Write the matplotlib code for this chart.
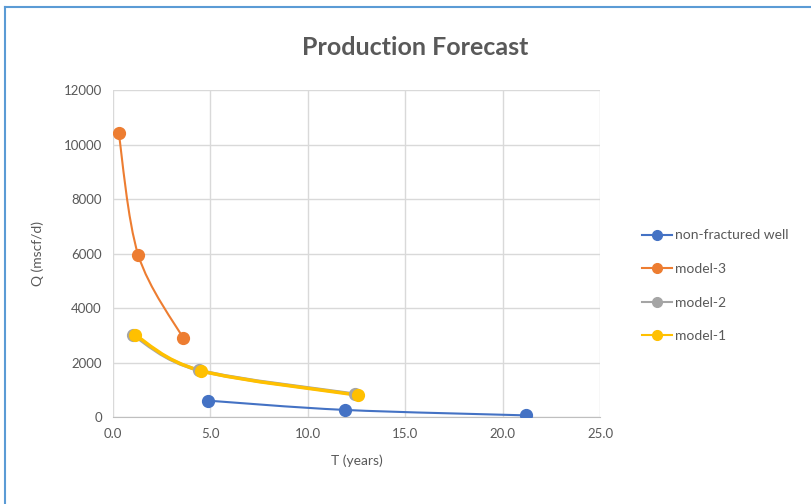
import matplotlib
matplotlib.use('Agg')
import matplotlib.pyplot as plt
from matplotlib.path import Path
from matplotlib.patches import PathPatch
from matplotlib.lines import Line2D

# data
series_names = ['non-fractured well', 'model-3', 'model-2', 'model-1']
t_nonfrac = [4.9, 11.9, 21.2]
q_nonfrac = [600, 260, 60]
t_model3 = [0.3, 1.3, 3.6]
q_model3 = [10420, 5950, 2900]
t_model2 = [1.05, 4.4, 12.4]
q_model2 = [3000, 1720, 840]
t_model1 = [1.15, 4.5, 12.6]
q_model1 = [3000, 1700, 800]

colors = ['#4472C4', '#ED7D31', '#A5A5A5', '#FFC000']
widths = [1.5, 1.5, 2.5, 2.5]
xticks = [0, 5, 10, 15, 20, 25]
yticks = [0, 2000, 4000, 6000, 8000, 10000, 12000]
txt = '#595959'


def smooth_path(xs, ys):
    # Excel style smoothed line as bezier segments through the data points
    pts = list(zip(xs, ys))
    verts = [pts[0]]
    codes = [Path.MOVETO]
    n = len(pts)
    for i in range(n - 1):
        p0 = pts[i - 1] if i > 0 else pts[i]
        p1 = pts[i]
        p2 = pts[i + 1]
        p3 = pts[i + 2] if i + 2 < n else pts[i + 1]
        c1 = (p1[0] + (p2[0] - p0[0]) / 6, p1[1] + (p2[1] - p0[1]) / 6)
        c2 = (p2[0] - (p3[0] - p1[0]) / 6, p2[1] - (p3[1] - p1[1]) / 6)
        verts += [c1, c2, p2]
        codes += [Path.CURVE4] * 3
    return Path(verts, codes)


plt.rcParams['font.family'] = ['Lato', 'DejaVu Sans']
fig = plt.figure(figsize=(8.12, 5.04), dpi=100)
ax = fig.add_axes([0.139, 0.1726, 0.6, 0.6488])

all_t = [t_nonfrac, t_model3, t_model2, t_model1]
all_q = [q_nonfrac, q_model3, q_model2, q_model1]
handles = []
for t, q, c, w, name in zip(all_t, all_q, colors, widths, series_names):
    ax.add_patch(PathPatch(smooth_path(t, q), facecolor='none', edgecolor=c, lw=w, zorder=3))
    ax.plot(t, q, 'o', color=c, markersize=8.5, zorder=4)
    handles.append(Line2D([0], [0], color=c, lw=1.5, marker='o', markersize=7, label=name))

ax.set_xlim(0, 25)
ax.set_ylim(0, 12000)
ax.set_xticks(xticks)
ax.set_yticks(yticks)
ax.set_xticklabels([f'{v:.1f}' for v in xticks])
ax.set_yticklabels([str(v) for v in yticks])
ax.grid(True, color='#D9D9D9', lw=1)
ax.set_axisbelow(True)
for s in ['top', 'right', 'left']:
    ax.spines[s].set_visible(False)
ax.spines['bottom'].set_color('#BFBFBF')
ax.tick_params(length=0, colors=txt, labelsize=9.5, pad=8)

ax.set_xlabel('T (years)', color=txt, fontsize=10, labelpad=10)
ax.set_ylabel('Q (mscf/d)', color=txt, fontsize=10, labelpad=14)
fig.text(0.511, 0.906, 'Production Forecast', ha='center', va='center',
         fontsize=18, fontweight='bold', color=txt)

leg = fig.legend(handles=handles, loc='center left', bbox_to_anchor=(0.775, 0.433),
                 frameon=False, fontsize=10, labelspacing=1.55, handlelength=2.2,
                 handletextpad=0.2)
for t in leg.get_texts():
    t.set_color(txt)

# selection border at top and left edge
fig.add_artist(Line2D([0.006, 1.0], [0.986, 0.986], color='#5B9BD5', lw=1.5, transform=fig.transFigure))
fig.add_artist(Line2D([0.006, 0.006], [0.0, 0.986], color='#5B9BD5', lw=1.5, transform=fig.transFigure))

fig.savefig('out.png', dpi=100)
